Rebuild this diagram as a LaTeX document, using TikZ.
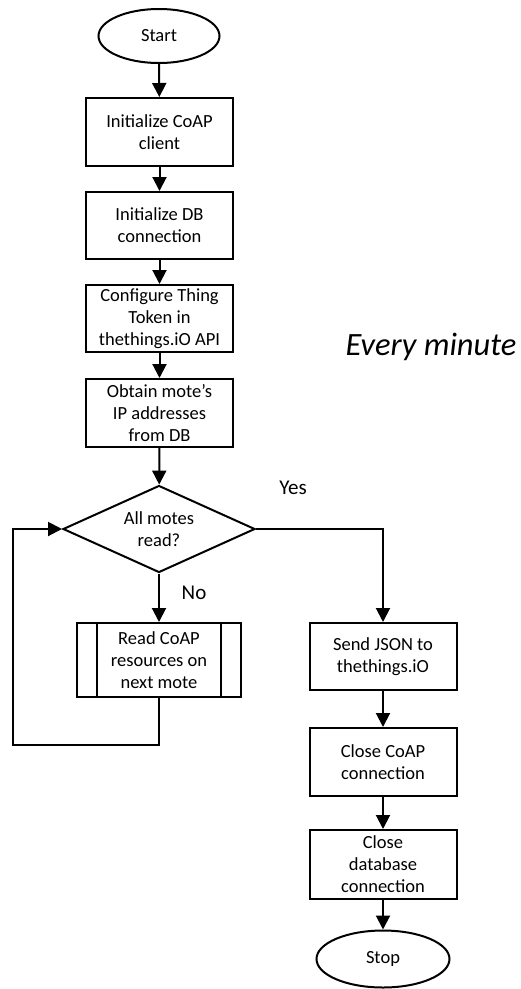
\documentclass[tikz,border=0pt]{standalone}
\usepackage{fontspec}
\setmainfont{Carlito}
\usetikzlibrary{shapes.geometric,arrows.meta}
\begin{document}
\begin{tikzpicture}[x=1pt,y=-1pt,
  every node/.style={font=\fontsize{18.5}{22}\selectfont},
  proc/.style={draw,line width=2pt,minimum width=147pt,align=center,inner sep=0pt},
  term/.style={draw,ellipse,line width=2pt,inner sep=0pt},
  decision/.style={draw,diamond,line width=2pt,aspect=2.2,inner sep=0pt,align=center},
  arr/.style={line width=2pt,-{Triangle[width=14pt,length=14pt]}},
  link/.style={line width=2pt},
  lbl/.style={font=\fontsize{21}{22}\selectfont}]
\useasboundingbox (0,0) rectangle (520,989);

% main column
\node[term,minimum width=121pt,minimum height=54pt] (start) at (159,36) {Start};
\node[proc,minimum height=68pt] (b1) at (159.5,132) {Initialize CoAP\\client};
\node[proc,minimum height=67pt] (b2) at (159.5,225.5) {Initialize DB\\connection};
\node[proc,minimum height=67pt] (b3) at (159.5,318.5) {Configure Thing\\Token in\\thethings.iO API};
\node[proc,minimum height=68pt] (b4) at (159.5,413) {Obtain mote’s\\IP addresses\\from DB};
\node[decision,minimum width=192pt,minimum height=87pt] (dec) at (159,529) {All motes\\read?};

% predefined process with side bars
\node[proc,minimum width=164pt,minimum height=74pt] (read) at (159,660) {Read CoAP\\resources on\\next mote};
\draw[link] ([xshift=21pt]read.north west) -- ([xshift=21pt]read.south west);
\draw[link] ([xshift=-21pt]read.north east) -- ([xshift=-21pt]read.south east);

% right column
\node[proc,minimum height=67pt] (json) at (383,656.5) {Send JSON to\\thethings.iO};
\node[proc,minimum height=68pt] (ccoap) at (383,762) {Close CoAP\\connection};
\node[proc,minimum height=69pt] (cdb) at (383,864.5) {Close\\database\\connection};
\node[term,minimum width=133pt,minimum height=57pt] (stop) at (383,959) {Stop};

% labels
\node[lbl] (yes) at (293,488) {Yes};
\node[lbl] (no) at (194,593) {No};
\node[font=\itshape\fontsize{32.5}{36}\selectfont,anchor=base] (every) at (431,355) {Every minute};

% connectors
\draw[arr] (start) -- (b1);
\draw[arr] (b1) -- (b2);
\draw[arr] (b2) -- (b3);
\draw[arr] (b3) -- (b4);
\draw[arr] (b4) -- (dec);
\draw[arr] (dec) -- (read);
\draw[arr] (dec.east) -| (json.north);
\coordinate (loop) at (13,745);
\draw[arr] (read.south) |- (loop) |- (dec.west);
\draw[arr] (json) -- (ccoap);
\draw[arr] (ccoap) -- (cdb);
\draw[arr] (cdb) -- (stop);
\end{tikzpicture}
\end{document}
